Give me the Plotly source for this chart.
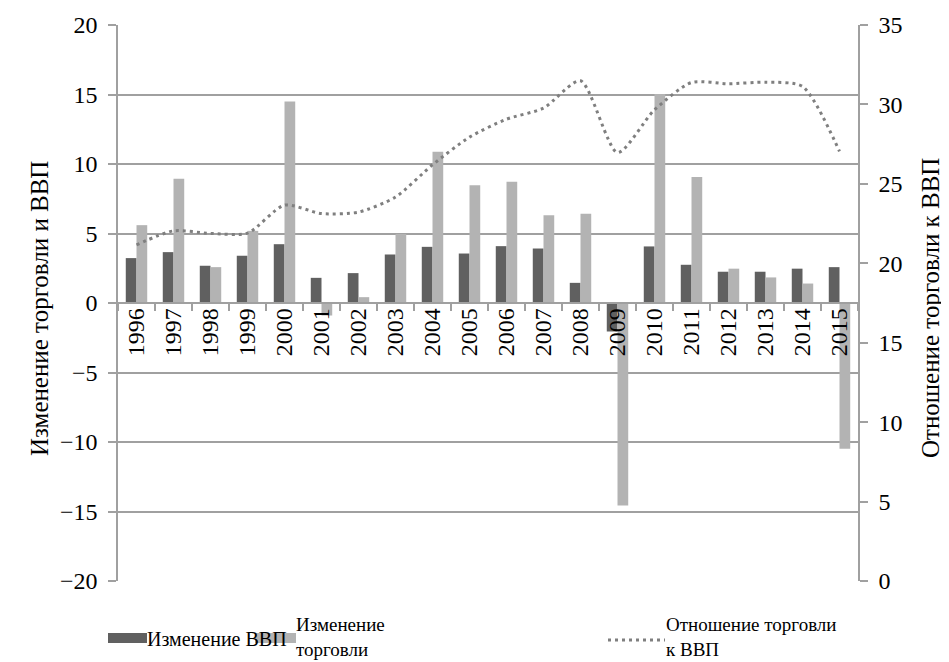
import plotly.graph_objects as go

years = [str(y) for y in range(1996, 2016)]
gdp_change = [3.23, 3.66, 2.68, 3.4, 4.23, 1.81, 2.15, 3.49, 4.04, 3.56,
              4.09, 3.92, 1.45, -2.05, 4.07, 2.75, 2.25, 2.25, 2.47, 2.58]
trade_change = [5.6, 8.93, 2.58, 5.19, 14.5, -0.9, 0.42, 4.97, 10.88, 8.48,
                8.72, 6.32, 6.42, -14.57, 15.03, 9.06, 2.47, 1.84, 1.4, -10.49]
trade_to_gdp = [21.16, 22.04, 21.88, 21.9, 23.66, 23.13, 23.22, 24.17, 26.2, 27.94,
                29.07, 29.77, 31.49, 26.97, 29.66, 31.38, 31.3, 31.4, 31.13, 27.04]

left_ticks = list(range(-20, 21, 5))
right_ticks = list(range(0, 36, 5))

FONT = "Liberation Serif, Times New Roman, serif"
DARK = "#606060"
LIGHT = "#b3b3b3"
LINEC = "#7f7f7f"
GRID = "#a0a0a0"

fig = go.Figure()
fig.add_trace(go.Bar(x=years, y=gdp_change, name="Изменение ВВП",
                     marker=dict(color=DARK, line=dict(width=0))))
fig.add_trace(go.Bar(x=years, y=trade_change, name="Изменение торговли",
                     marker=dict(color=LIGHT, line=dict(width=0))))
fig.add_trace(go.Scatter(x=years, y=trade_to_gdp, name="Отношение торговли к ВВП",
                         yaxis="y2", mode="lines",
                         line=dict(color=LINEC, width=3, dash="3px,4px", shape="spline", smoothing=0.7)))

# the page body has an 8px margin, so everything is laid out 8px up/left
OFF = 8
W, H = 949 - OFF, 662 - OFF
L, T = 118 - OFF, 25 - OFF
R = W - (858 - OFF)
B = H - (581 - OFF)
pw, ph = W - L - R, H - T - B


def px(x):
    return (x - OFF - L) / pw


def py(y):
    return (H - B - (y - OFF)) / ph


fig.update_layout(
    width=W, height=H,
    margin=dict(l=L, r=R, t=T, b=B, autoexpand=False),
    paper_bgcolor="white", plot_bgcolor="white",
    barmode="group", bargap=0.42, bargroupgap=0,
    showlegend=False,
    font=dict(family=FONT, size=22, color="black"),
    xaxis=dict(
        type="category", anchor="free", position=0.5,
        showline=True, linecolor=GRID, linewidth=1.5,
        ticks="outside", ticklen=7, tickcolor=GRID, tickwidth=1.5,
        tickson="boundaries", tickangle=-90,
        ticklabelstandoff=-5,
        tickfont=dict(family=FONT, size=24, color="black"),
        showgrid=False, zeroline=False, layer="above traces",
    ),
    yaxis=dict(
        range=[-20, 20], tickvals=left_ticks,
        ticktext=[("−" + str(-v)) if v < 0 else str(v) for v in left_ticks],
        showgrid=True, gridcolor=GRID, gridwidth=1.5,
        showline=True, linecolor=GRID, linewidth=1.5,
        ticks="outside", ticklen=8, tickcolor=GRID, tickwidth=1.5,
        ticklabelstandoff=6,
        tickfont=dict(family=FONT, size=24, color="black"),
        zeroline=False,
    ),
    yaxis2=dict(
        range=[0, 35], tickvals=right_ticks, overlaying="y", side="right",
        showgrid=False, zeroline=False,
        showline=True, linecolor=GRID, linewidth=1.5,
        ticks="outside", ticklen=8, tickcolor=GRID, tickwidth=1.5,
        ticklabelstandoff=6,
        tickfont=dict(family=FONT, size=24, color="black"),
    ),
)

TITLE = 25
fig.add_annotation(text="Изменение торговли и ВВП", xref="paper", yref="paper",
                   x=px(40), y=py(309), textangle=-90, showarrow=False,
                   xanchor="center", yanchor="middle",
                   font=dict(family=FONT, size=TITLE, color="black"))
fig.add_annotation(text="Отношение торговли к ВВП", xref="paper", yref="paper",
                   x=px(931), y=py(308), textangle=-90, showarrow=False,
                   xanchor="center", yanchor="middle",
                   font=dict(family=FONT, size=TITLE, color="black"))

# Legend (drawn manually to mimic the reference layout)
fig.add_shape(type="rect", xref="paper", yref="paper",
              x0=px(108), x1=px(147), y0=py(643), y1=py(633),
              fillcolor=DARK, line=dict(width=0))
fig.add_annotation(text="Изменение ВВП", xref="paper", yref="paper",
                   x=px(145), y=py(639), xanchor="left", yanchor="middle", showarrow=False,
                   font=dict(family=FONT, size=20, color="black"))
fig.add_shape(type="rect", xref="paper", yref="paper",
              x0=px(255), x1=px(296), y0=py(643), y1=py(633),
              fillcolor=LIGHT, line=dict(width=0))
fig.add_annotation(text="Изменение<br>торговли", xref="paper", yref="paper",
                   x=px(295), y=py(661), xanchor="left", yanchor="bottom", showarrow=False,
                   align="left", borderpad=0,
                   font=dict(family=FONT, size=19, color="black"))
fig.add_shape(type="line", xref="paper", yref="paper",
              x0=px(608), x1=px(665), y0=py(640), y1=py(640),
              line=dict(color=LINEC, width=3, dash="3px,4px"))
fig.add_annotation(text="Отношение торговли<br>к ВВП", xref="paper", yref="paper",
                   x=px(665), y=py(661), xanchor="left", yanchor="bottom", showarrow=False,
                   align="left", borderpad=0,
                   font=dict(family=FONT, size=19, color="black"))

fig.write_html("out.html")
